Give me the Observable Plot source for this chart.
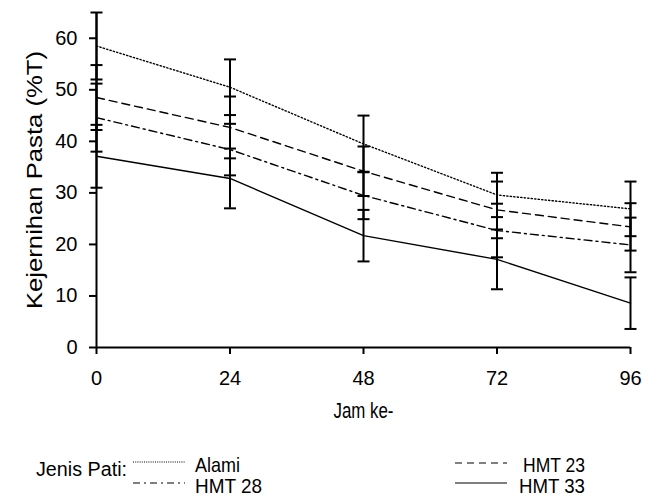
<!DOCTYPE html>
<html>
<head>
<meta charset="utf-8">
<script src="https://cdn.jsdelivr.net/npm/d3@7"></script>
<script src="https://cdn.jsdelivr.net/npm/@observablehq/plot@0.6"></script>
<style>
  html, body { margin: 0; padding: 0; background: white; }
  #chart { width: 659px; }
  svg { display: block; }
</style>
</head>
<body>
<div id="chart"></div>
<script>
const hours = [0, 24, 48, 72, 96];
const xTicks = [0, 24, 48, 72, 96];
const yTicks = [0, 10, 20, 30, 40, 50, 60];
const seriesNames = ["Alami", "HMT 23", "HMT 28", "HMT 33"];
const alami    = [58.5, 50.5, 39.5, 29.6, 26.9];
const alamiErr = [6.5, 5.4, 5.5, 4.3, 5.3];
const hmt23    = [48.5, 42.7, 34.2, 26.7, 23.4];
const hmt23Err = [6.3, 6.0, 4.8, 5.5, 4.6];
const hmt28    = [44.6, 38.4, 29.5, 22.7, 19.9];
const hmt28Err = [6.6, 5.0, 4.6, 5.2, 5.3];
const hmt33    = [37.1, 32.8, 21.7, 17.1, 8.6];
const hmt33Err = [6.1, 5.8, 5.0, 5.8, 5.0];

const values = [alami, hmt23, hmt28, hmt33];
const errors = [alamiErr, hmt23Err, hmt28Err, hmt33Err];
const dashes = ["1.3,2.2", "8,5", "8,4,2,4", null];
const legendDashes = ["1,1.2", "7,5", "7,4,2,4", null];

const rows = [];
seriesNames.forEach((s, i) => {
  hours.forEach((h, j) => rows.push({series: s, hour: h, v: values[i][j], e: errors[i][j]}));
});
const caps = rows.flatMap(d => [{hour: d.hour, y: d.v - d.e}, {hour: d.hour, y: d.v + d.e}]);

const capSymbol = {draw(ctx) { ctx.moveTo(-6, 0); ctx.lineTo(6, 0); }};

const FONT = "'Liberation Sans', Arial, sans-serif";
const W = 659, H = 430;
const lineMarks = seriesNames.map((s, i) =>
  Plot.line(rows.filter(d => d.series === s), {
    x: "hour", y: "v", stroke: "black", strokeWidth: 1.4,
    strokeDasharray: dashes[i] || undefined
  })
);

const plot = Plot.plot({
  width: W, height: H,
  marginLeft: 96, marginRight: 29, marginTop: 12, marginBottom: 83,
  style: {fontFamily: FONT, fontSize: "20px", color: "black", background: "white"},
  x: {domain: [0, 96]},
  y: {domain: [0, 65]},
  marks: [
    Plot.axisX({ticks: xTicks, tickSize: 7, tickPadding: 16, strokeWidth: 2, fontSize: 20, label: "Jam ke-", labelAnchor: "center", labelArrow: "none", labelOffset: 70, tickFormat: d => String(d)}),
    Plot.axisY({ticks: yTicks, tickSize: 7, tickPadding: 12, strokeWidth: 2, fontSize: 20, label: "Kejernihan Pasta (%T)", labelAnchor: "center", labelArrow: "none", labelOffset: 70, tickFormat: d => String(d)}),
    Plot.ruleY([0], {stroke: "black", strokeWidth: 2}),
    Plot.ruleX([0], {y1: 0, y2: 65, stroke: "black", strokeWidth: 2}),
    ...lineMarks,
    Plot.ruleX(rows, {x: "hour", y1: d => d.v - d.e, y2: d => d.v + d.e, stroke: "black", strokeWidth: 2}),
    Plot.dot(caps, {x: "hour", y: "y", symbol: capSymbol, stroke: "black", strokeWidth: 2, fill: "none"})
  ]
});
document.getElementById("chart").appendChild(plot);

// adjust axis titles to the reference's stretched/condensed widths
d3.select(plot).selectAll("text").each(function() {
  const t = this.textContent;
  if (t === "Jam ke-") d3.select(this).attr("font-size", 22).attr("textLength", 60).attr("lengthAdjust", "spacingAndGlyphs");
  if (t === "Kejernihan Pasta (%T)") d3.select(this).attr("font-size", 22).attr("textLength", 258).attr("lengthAdjust", "spacingAndGlyphs");
});

// legend
const legend = d3.select("#chart").append("svg")
  .attr("width", W).attr("height", 497 - H)
  .style("font-family", FONT);
legend.append("text").attr("x", 36).attr("y", 46).attr("font-size", 20)
  .attr("textLength", 91).attr("lengthAdjust", "spacingAndGlyphs").text("Jenis Pati:");
const pos = [
  {lx: 133, ly: 32, tx: 195, ty: 42, tl: 45},
  {lx: 455, ly: 33, tx: 523, ty: 42, tl: 62},
  {lx: 133, ly: 53, tx: 195, ty: 63, tl: 67},
  {lx: 455, ly: 53, tx: 519, ty: 63, tl: 66}
];
seriesNames.forEach((s, i) => {
  const p = pos[i];
  legend.append("line").attr("x1", p.lx).attr("x2", p.lx + 52).attr("y1", p.ly).attr("y2", p.ly)
    .attr("stroke", "black").attr("stroke-width", 1.2)
    .attr("stroke-dasharray", legendDashes[i]);
  legend.append("text").attr("x", p.tx).attr("y", p.ty).attr("font-size", 21)
    .attr("textLength", p.tl).attr("lengthAdjust", "spacingAndGlyphs").text(s);
});
</script>
</body>
</html>
